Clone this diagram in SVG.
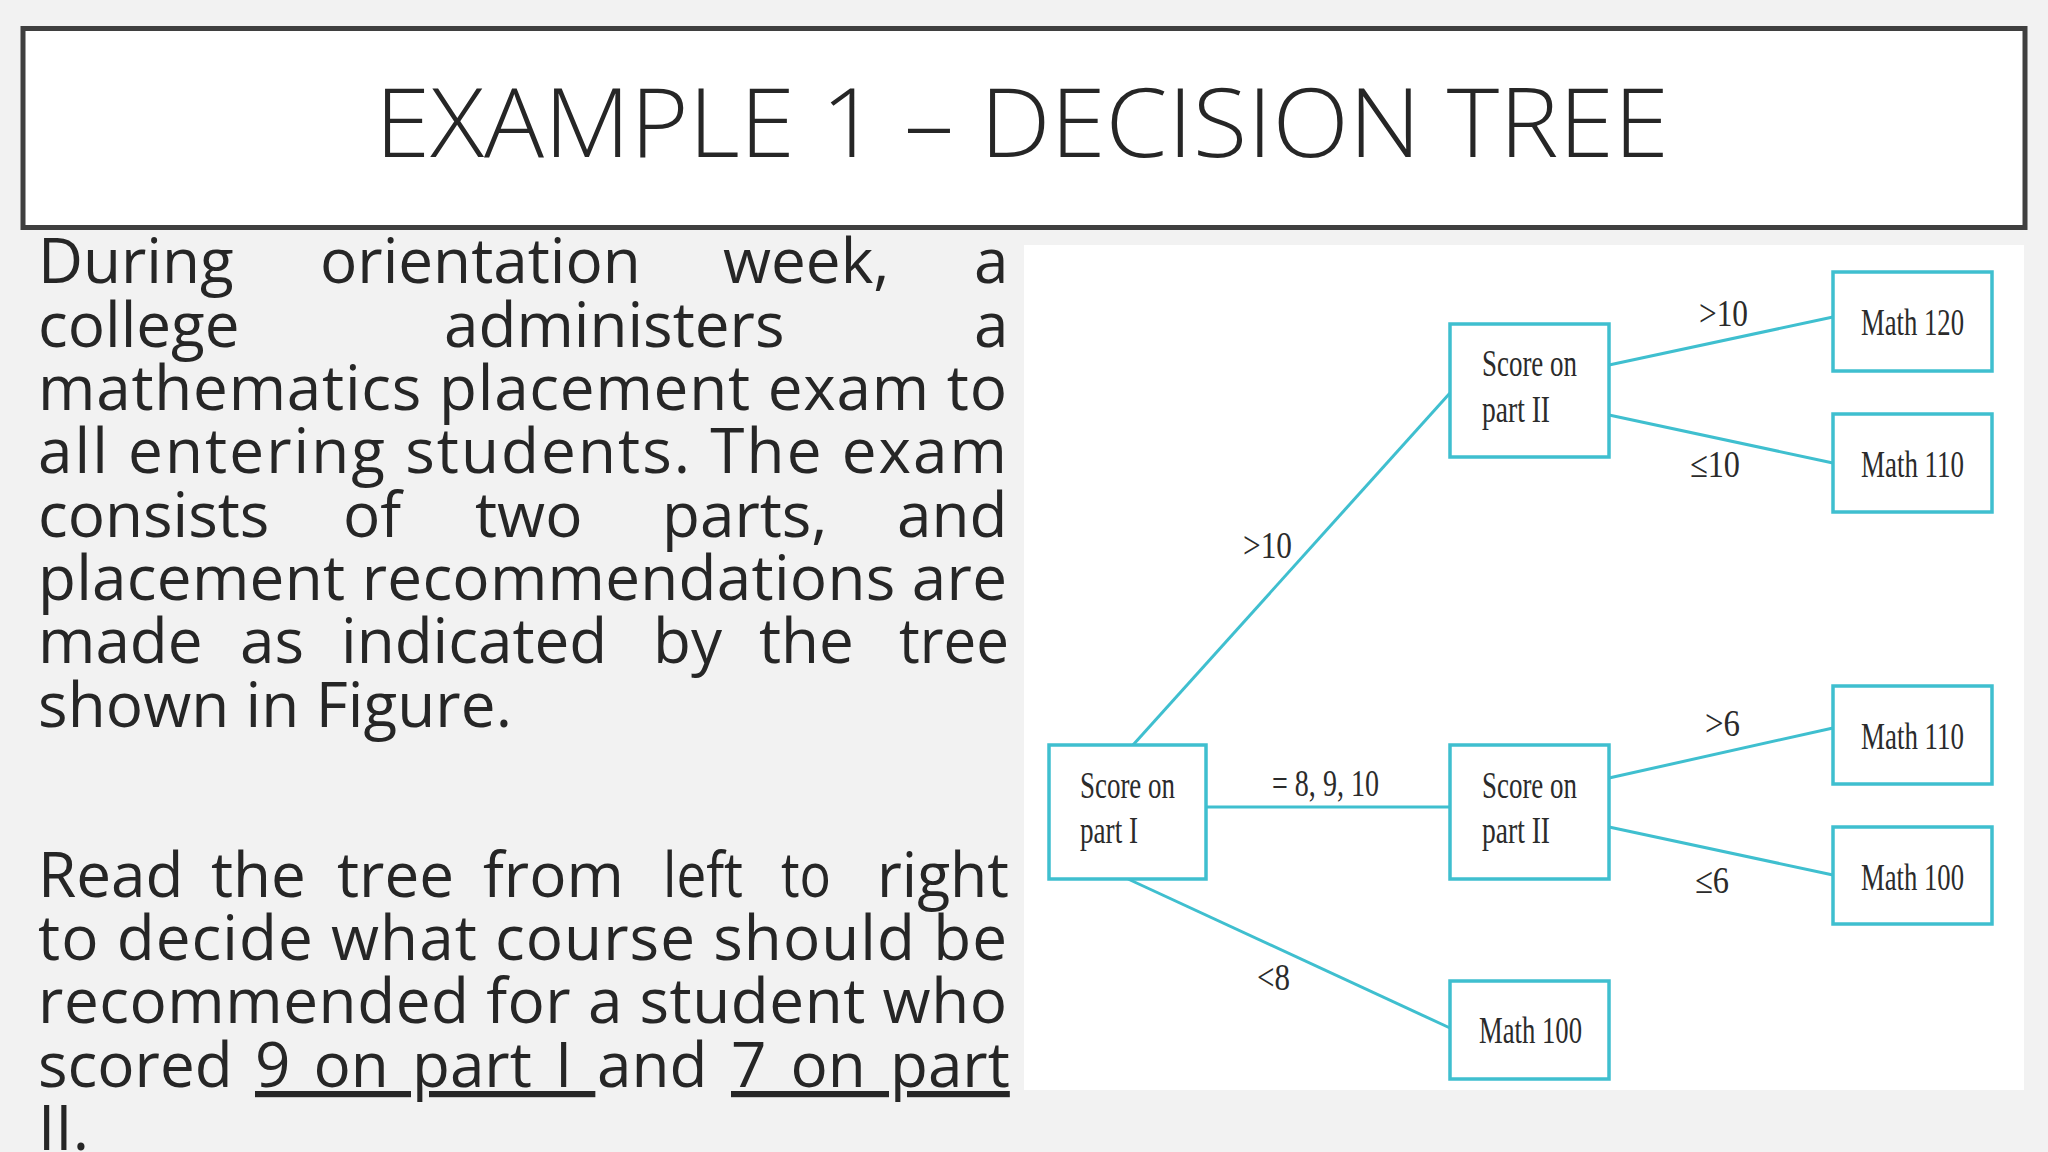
<svg xmlns="http://www.w3.org/2000/svg" width="2048" height="1152" viewBox="0 0 2048 1152">
<style>
.body{font-family:"Open Sans","Noto Sans",sans-serif;font-size:62px;fill:#262626}
.title{font-family:"Open Sans","Noto Sans",sans-serif;font-size:95px;fill:#262626;font-weight:300}
.box{fill:#ffffff;stroke:#3fbfcf;stroke-width:3.5}
.edge{stroke:#3fbfcf;stroke-width:3;fill:none}
.lbl{font-family:"Liberation Serif","Times New Roman",serif;font-size:37px;fill:#2b2b2b}
.ul{text-decoration:underline;text-decoration-skip-ink:none}
</style>
<rect width="2048" height="1152" fill="#f2f2f2"/>
<g id="title">
<rect x="23" y="28.5" width="2002" height="199" fill="#ffffff" stroke="#3f3f3f" stroke-width="5"/>
<text class="title" x="375" y="157" textLength="1294" lengthAdjust="spacingAndGlyphs">EXAMPLE 1 – DECISION TREE</text>
</g>
<g id="body-text">
<text class="body" y="283"><tspan x="38">During</tspan><tspan x="320">orientation</tspan><tspan x="723">week,</tspan><tspan x="974">a</tspan></text>
<text class="body" y="347"><tspan x="38">college</tspan><tspan x="444">administers</tspan><tspan x="974">a</tspan></text>
<text class="body" x="38" y="410" textLength="969">mathematics placement exam to</text>
<text class="body" x="38" y="473" textLength="969">all entering students. The exam</text>
<text class="body" y="537"><tspan x="38">consists</tspan><tspan x="343">of</tspan><tspan x="475">two</tspan><tspan x="662">parts,</tspan><tspan x="897">and</tspan></text>
<text class="body" x="38" y="600" textLength="969">placement recommendations are</text>
<text class="body" y="663"><tspan x="38">made</tspan><tspan x="240">as</tspan><tspan x="341">indicated</tspan><tspan x="653">by</tspan><tspan x="759">the</tspan><tspan x="899" textLength="110" lengthAdjust="spacingAndGlyphs">tree</tspan></text>
<text class="body" x="38" y="727" textLength="474">shown in Figure.</text>
<text class="body" y="897"><tspan x="38">Read</tspan><tspan x="211">the</tspan><tspan x="337">tree</tspan><tspan x="483">from</tspan><tspan x="663" textLength="80" lengthAdjust="spacingAndGlyphs">left</tspan><tspan x="781" textLength="50" lengthAdjust="spacingAndGlyphs">to</tspan><tspan x="877" textLength="132" lengthAdjust="spacingAndGlyphs">right</tspan></text>
<text class="body" x="38" y="960" textLength="969">to decide what course should be</text>
<text class="body" x="38" y="1023" textLength="969">recommended for a student who</text>
<text class="body" y="1087" xml:space="preserve"><tspan x="38">scored</tspan><tspan x="255" class="ul" word-spacing="7">9 on part I </tspan><tspan x="597">and</tspan><tspan x="731" class="ul" word-spacing="8">7 on part</tspan></text>
<text class="body" x="38" y="1150">II.</text>
</g>
<rect id="figure-panel" x="1024" y="245" width="1000" height="845" fill="#ffffff"/>
<g id="connectors">
<line class="edge" x1="1133" y1="745" x2="1450" y2="393"/>
<line class="edge" x1="1609" y1="365" x2="1833" y2="317"/>
<line class="edge" x1="1609" y1="415" x2="1833" y2="463"/>
<line class="edge" x1="1206" y1="807" x2="1450" y2="807" stroke-width="5"/>
<line class="edge" x1="1609" y1="778" x2="1833" y2="728"/>
<line class="edge" x1="1609" y1="827" x2="1833" y2="875"/>
<line class="edge" x1="1128" y1="879" x2="1450" y2="1028"/>
</g>
<g id="edge-labels">
<text class="lbl" x="1243" y="558" textLength="49" lengthAdjust="spacingAndGlyphs">&gt;10</text>
<text class="lbl" x="1699" y="326" textLength="49" lengthAdjust="spacingAndGlyphs">&gt;10</text>
<text class="lbl" x="1690" y="477" textLength="50" lengthAdjust="spacingAndGlyphs">≤10</text>
<text class="lbl" x="1272" y="796" textLength="107" lengthAdjust="spacingAndGlyphs">= 8, 9, 10</text>
<text class="lbl" x="1705" y="736" textLength="35" lengthAdjust="spacingAndGlyphs">&gt;6</text>
<text class="lbl" x="1695" y="893" textLength="34" lengthAdjust="spacingAndGlyphs">≤6</text>
<text class="lbl" x="1257" y="990" textLength="33" lengthAdjust="spacingAndGlyphs">&lt;8</text>
</g>
<g id="node-part1">
<rect class="box" x="1049" y="745" width="157" height="134"/>
<text class="lbl" x="1080" y="798" textLength="95" lengthAdjust="spacingAndGlyphs">Score on</text>
<text class="lbl" x="1080" y="843" textLength="58" lengthAdjust="spacingAndGlyphs">part I</text>
</g>
<g id="node-part2-top">
<rect class="box" x="1450" y="324" width="159" height="133"/>
<text class="lbl" x="1482" y="376" textLength="95" lengthAdjust="spacingAndGlyphs">Score on</text>
<text class="lbl" x="1482" y="422" textLength="68" lengthAdjust="spacingAndGlyphs">part II</text>
</g>
<g id="node-part2-mid">
<rect class="box" x="1450" y="745" width="159" height="134"/>
<text class="lbl" x="1482" y="798" textLength="95" lengthAdjust="spacingAndGlyphs">Score on</text>
<text class="lbl" x="1482" y="843" textLength="68" lengthAdjust="spacingAndGlyphs">part II</text>
</g>
<g id="node-math120">
<rect class="box" x="1833" y="272" width="159" height="99"/>
<text class="lbl" x="1861" y="335" textLength="103" lengthAdjust="spacingAndGlyphs">Math 120</text>
</g>
<g id="node-math110-top">
<rect class="box" x="1833" y="414" width="159" height="98"/>
<text class="lbl" x="1861" y="477" textLength="103" lengthAdjust="spacingAndGlyphs">Math 110</text>
</g>
<g id="node-math110-mid">
<rect class="box" x="1833" y="686" width="159" height="98"/>
<text class="lbl" x="1861" y="749" textLength="103" lengthAdjust="spacingAndGlyphs">Math 110</text>
</g>
<g id="node-math100-right">
<rect class="box" x="1833" y="827" width="159" height="97"/>
<text class="lbl" x="1861" y="890" textLength="103" lengthAdjust="spacingAndGlyphs">Math 100</text>
</g>
<g id="node-math100-bottom">
<rect class="box" x="1450" y="981" width="159" height="98"/>
<text class="lbl" x="1479" y="1043" textLength="103" lengthAdjust="spacingAndGlyphs">Math 100</text>
</g>
</svg>
